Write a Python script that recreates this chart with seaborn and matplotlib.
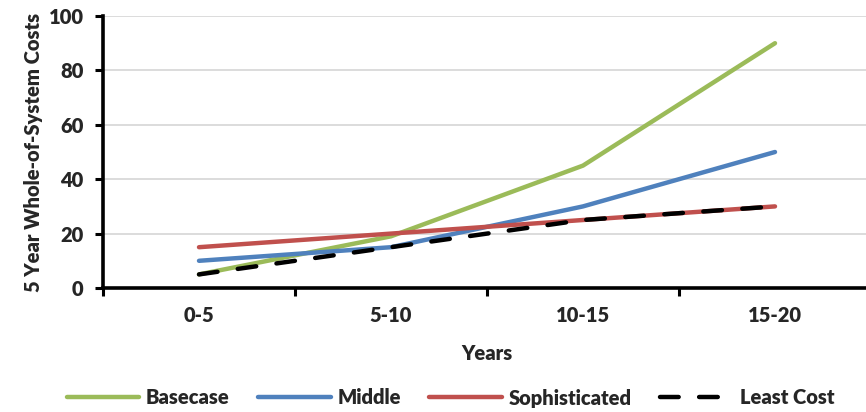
import matplotlib
matplotlib.use("Agg")
import matplotlib.pyplot as plt
from matplotlib.ticker import FixedLocator, NullFormatter
import pandas as pd
import seaborn as sns

# Cost trajectories per 5-year window
periods = ["0-5", "5-10", "10-15", "15-20"]
basecase = [5, 19, 45, 90]
middle = [10, 15, 30, 50]
sophisticated = [15, 20, 25, 30]
least_cost = [5, 15, 25, 30]

series_names = ["Basecase", "Middle", "Sophisticated", "Least Cost"]
series_values = [basecase, middle, sophisticated, least_cost]
colors = ["#9BBB59", "#4F81BD", "#C0504D", "#000000"]
y_ticks = [0, 20, 40, 60, 80, 100]

rows = []
for name, vals in zip(series_names, series_values):
    for i, (p, v) in enumerate(zip(periods, vals)):
        rows.append({"pos": i, "period": p, "cost": v, "scenario": name})
df = pd.DataFrame(rows)

sns.set_theme(style="white")
plt.rcParams["font.family"] = ["Lato", "DejaVu Sans"]
WEIGHT = "heavy"
plt.rcParams["font.weight"] = WEIGHT

FS = 14.5

fig = plt.figure(figsize=(8.66, 4.12), dpi=100)
ax = fig.add_axes([103 / 866, 124 / 412, 768 / 866, 272 / 412])

ax.yaxis.grid(True, color="#d9d9d9", linewidth=1.3)
ax.set_axisbelow(True)

sns.lineplot(
    data=df, x="pos", y="cost", hue="scenario", style="scenario",
    hue_order=series_names, style_order=series_names,
    palette=dict(zip(series_names, colors)),
    dashes={"Basecase": "", "Middle": "", "Sophisticated": "", "Least Cost": (4.2, 4.6)},
    linewidth=3.2, legend=False, ax=ax,
)
for line in ax.get_lines():
    line.set_solid_capstyle("round")
    line.set_dash_capstyle("round")

ax.set_xlim(-0.5, 3.5)
ax.set_ylim(0, 100)
ax.set_yticks(y_ticks)
ax.set_xticks(range(len(periods)))
ax.set_xticklabels(periods)
ax.xaxis.set_minor_locator(FixedLocator([-0.5, 0.5, 1.5, 2.5, 3.5]))
ax.xaxis.set_minor_formatter(NullFormatter())

ax.tick_params(axis="x", which="major", length=0, pad=13, labelsize=FS)
ax.tick_params(axis="x", which="minor", length=6, width=2.2, color="black", direction="out")
ax.tick_params(axis="y", which="major", length=6, width=2.2, color="black",
               direction="out", labelsize=FS, pad=8)
ax.tick_params(axis="y", left=True)
ax.tick_params(axis="x", which="minor", bottom=True)
for lbl in ax.get_xticklabels() + ax.get_yticklabels():
    lbl.set_fontweight(WEIGHT)

for side in ["top", "right"]:
    ax.spines[side].set_visible(False)
for side in ["left", "bottom"]:
    ax.spines[side].set_color("black")
    ax.spines[side].set_linewidth(2.6)

ax.set_xlabel("Years", fontsize=FS, fontweight=WEIGHT, labelpad=14)
ax.set_ylabel("5 Year Whole-of-System Costs", fontsize=FS, fontweight=WEIGHT, labelpad=4)

handles = ax.get_lines()[:len(series_names)]
leg = fig.legend(
    handles, series_names, loc="center", bbox_to_anchor=(0.52, 14 / 412),
    ncol=4, frameon=False, fontsize=FS, handlelength=3.6, columnspacing=1.4,
    handletextpad=0.35,
)
for t in leg.get_texts():
    t.set_fontweight(WEIGHT)

fig.savefig("out.png", dpi=100)
